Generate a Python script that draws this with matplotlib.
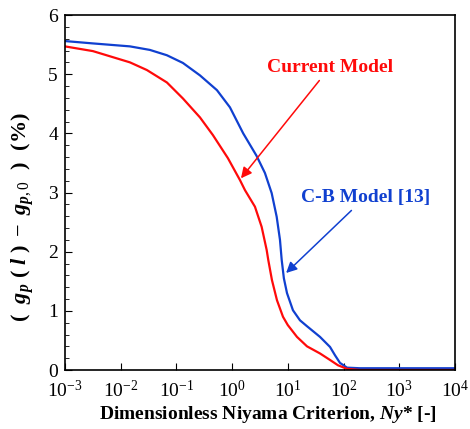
import matplotlib.pyplot as plt
import numpy as np

plt.rcParams['font.family'] = 'Liberation Serif'
plt.rcParams['mathtext.fontset'] = 'custom'
plt.rcParams['mathtext.rm'] = 'Liberation Serif'
plt.rcParams['mathtext.bf'] = 'Liberation Serif:bold'
plt.rcParams['mathtext.it'] = 'Liberation Serif:italic:bold'

# values (log10 of Ny*, percent)
cb_logx = [-3.0, -2.497, -1.833, -1.474, -1.169, -0.882, -0.576, -0.271, -0.038,
           0.20, 0.44, 0.59, 0.711, 0.801, 0.860, 0.891, 0.930, 0.986,
           1.093, 1.219, 1.345, 1.578, 1.758, 1.847, 1.937, 2.063, 2.296, 3.0, 4.0]
cb_y = [5.56, 5.52, 5.47, 5.41, 5.32, 5.19, 4.98, 4.73, 4.44,
        4.00, 3.62, 3.33, 2.99, 2.59, 2.20, 1.86, 1.55, 1.30,
        1.01, 0.84, 0.74, 0.56, 0.39, 0.25, 0.12, 0.04, 0.03, 0.03, 0.03]

cur_logx = [-3.0, -2.497, -1.833, -1.528, -1.169, -0.882, -0.576, -0.343, -0.074,
            0.142, 0.232, 0.411, 0.531, 0.621, 0.650, 0.716, 0.806, 0.914, 1.0,
            1.165, 1.345, 1.578, 1.758, 1.901, 2.063, 2.296, 3.0, 4.0]
cur_y = [5.47, 5.39, 5.20, 5.07, 4.86, 4.59, 4.27, 3.97, 3.58,
         3.21, 3.04, 2.76, 2.42, 2.03, 1.86, 1.52, 1.18, 0.90, 0.76,
         0.56, 0.40, 0.28, 0.17, 0.08, 0.02, 0.0, 0.0, 0.0]

fig, ax = plt.subplots(figsize=(4.7, 4.29), dpi=100)
fig.subplots_adjust(left=0.138, right=0.968, top=0.965, bottom=0.1375)

ax.plot(10 ** np.array(cb_logx), cb_y, c='#1040d0', linewidth=1.6)
ax.plot(10 ** np.array(cur_logx), cur_y, c='#ff0a0a', linewidth=1.6)

ax.set_xscale('log')
ax.set_xlim(1e-3, 1e4)
ax.set_ylim(0, 6)
ax.set_xticks([10.0 ** k for k in range(-3, 5)])
ax.set_yticks(range(0, 7))
ax.yaxis.set_minor_locator(plt.MultipleLocator(0.2))
ax.tick_params(which='both', direction='in', labelsize=14)
ax.tick_params(axis='x', pad=7)
ax.tick_params(axis='y', pad=5)
ax.tick_params(which='major', length=5)
ax.tick_params(which='minor', length=3)
for s in ax.spines.values():
    s.set_linewidth(1.2)

ax.set_xlabel('Dimensionless Niyama Criterion, $Ny$* [-]',
              fontsize=14, fontweight='bold')
ax.xaxis.set_label_coords(0.52, -0.095)
ax.set_ylabel(r'$\mathbf{(}\ \ g_p\ \mathbf{(}\ l\ \mathbf{)}\ -\ g_{p,0}\ \ \mathbf{)\ \ (\%)}$',
              fontsize=16)
ax.yaxis.set_label_coords(-0.075, 0.43)

ax.annotate('Current Model', xy=(10 ** 0.16, 3.24), xytext=(10 ** 1.76, 5.12),
            color='#ff0a0a', fontsize=14, fontweight='bold', ha='center', va='center',
            arrowprops=dict(arrowstyle='-|>', color='#ff0a0a', lw=1.1,
                            mutation_scale=16, shrinkA=2, shrinkB=0))
ax.annotate('C-B Model [13]', xy=(10 ** 0.97, 1.64), xytext=(10 ** 2.39, 2.92),
            color='#1040d0', fontsize=14, fontweight='bold', ha='center', va='center',
            arrowprops=dict(arrowstyle='-|>', color='#1040d0', lw=1.1,
                            mutation_scale=16, shrinkA=2, shrinkB=0))

fig.savefig('out.png', dpi=100)
